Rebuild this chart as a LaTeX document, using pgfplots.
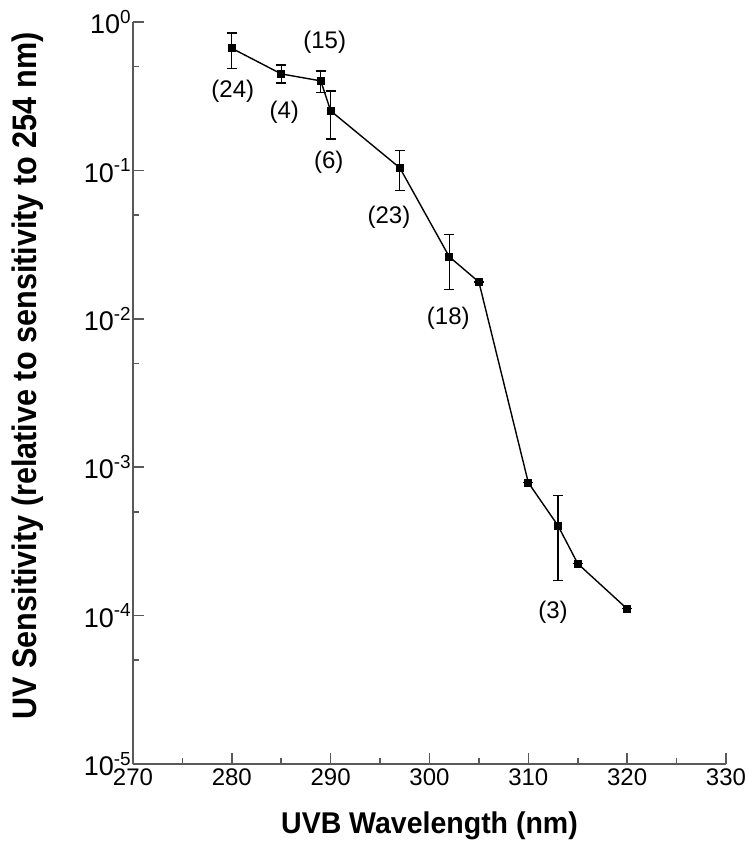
\documentclass[border=0pt]{standalone}
\usepackage{pgfplots}
\pgfplotsset{compat=1.18}
\usepackage{fontspec}
\setmainfont{Liberation Sans}
\begin{document}
\begin{tikzpicture}
\begin{axis}[
  scale only axis,
  width=296.5pt, height=371pt,
  xmin=270, xmax=330,
  ymode=log, ymin=1e-5, ymax=1,
  axis x line=bottom, axis y line=left,
  axis line style={-, draw=black!65, line width=0.9pt},
  tick style={draw=black!65, line width=0.8pt},
  tick align=inside,
  major tick length=5.5pt, minor tick length=3.2pt,
  xtick={270,280,...,330},
  minor xtick={275,285,...,325},
  ytick={1e-5,1e-4,1e-3,1e-2,1e-1,1},
  yticklabels={10\textsuperscript{-5},10\textsuperscript{-4},10\textsuperscript{-3},10\textsuperscript{-2},10\textsuperscript{-1},10\textsuperscript{0}},
  minor ytick={5e-5,5e-4,5e-3,5e-2,5e-1},
  /pgf/number format/assume math mode=true,
  xticklabel style={font=\fontsize{12}{14}\selectfont, inner sep=2pt},
  yticklabel style={font=\fontsize{13.5}{15}\selectfont, inner xsep=0.5pt},
  xlabel={UVB Wavelength (nm)},
  ylabel={UV Sensitivity (relative to sensitivity to 254 nm)},
  xlabel style={font=\fontsize{15}{17}\selectfont\bfseries, at={(axis description cs:0.5,-0.0836)}, anchor=center, xscale=0.95},
  ylabel style={font=\fontsize{17}{19}\selectfont\bfseries, at={(axis description cs:-0.177,0.523)}, anchor=center, xscale=0.9},
  clip=false,
]
\addplot+[black, line width=0.7pt, mark=square*, mark size=1.7pt,
  mark options={black, fill=black, solid},
  error bars/.cd, y dir=both, y explicit,
  error bar style={black, line width=0.6pt},
  error mark options={rotate=90, mark size=2.5pt, black, line width=0.6pt}]
  table[x=x, y=y, y error plus=ep, y error minus=em] {
x y ep em
280 0.665 0.178 0.177
285 0.447 0.066 0.059
289 0.401 0.067 0.068
290 0.252 0.091 0.089
297 0.104 0.033 0.031
302 0.0262 0.0106 0.0105
305 0.0177 0 0
310 0.000787 0 0
313 0.000404 0.000239 0.000232
315 0.000224 0 0
320 0.000111 0 0
};
\node[font=\fontsize{12}{14}\selectfont] at (axis cs:280.1,0.343) {(24)};
\node[font=\fontsize{12}{14}\selectfont] at (axis cs:285.3,0.248) {(4)};
\node[font=\fontsize{12}{14}\selectfont] at (axis cs:289.4,0.733) {(15)};
\node[font=\fontsize{12}{14}\selectfont] at (axis cs:289.8,0.114) {(6)};
\node[font=\fontsize{12}{14}\selectfont] at (axis cs:295.9,0.0485) {(23)};
\node[font=\fontsize{12}{14}\selectfont] at (axis cs:301.9,0.0101) {(18)};
\node[font=\fontsize{12}{14}\selectfont] at (axis cs:312.5,0.000105) {(3)};
\coordinate (sw) at (rel axis cs:0,0);
\end{axis}
\pgfresetboundingbox
\path[use as bounding box] ([shift={(-66.5pt,-38.5pt)}]sw) rectangle ++(374pt,420.5pt);
\end{tikzpicture}
\end{document}
